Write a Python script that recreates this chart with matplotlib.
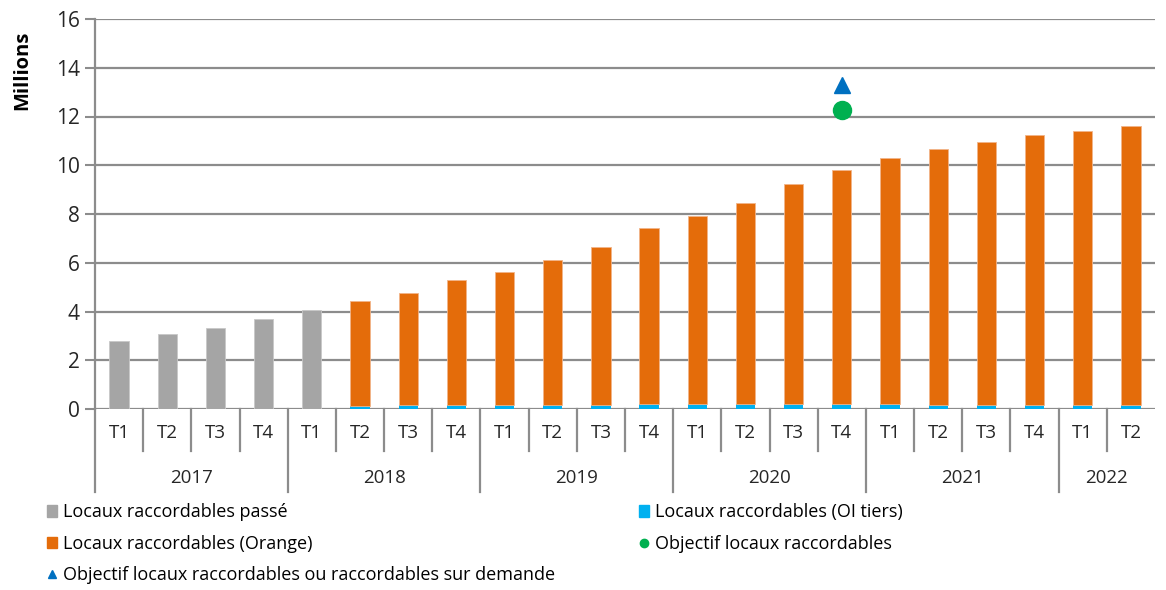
import matplotlib.pyplot as plt
from matplotlib.lines import Line2D
from matplotlib.patches import Patch

plt.rcParams['font.family'] = ['Open Sans', 'DejaVu Sans']

quarters = ["T1", "T2", "T3", "T4"] * 5 + ["T1", "T2"]
years = ["2017", "2018", "2019", "2020", "2021", "2022"]
quarters_per_year = [4, 4, 4, 4, 4, 2]

# millions
passe = [2.77, 3.08, 3.34, 3.71, 4.07]
oi_tiers = [0.12, 0.17, 0.17, 0.16, 0.16, 0.16, 0.21, 0.21, 0.21, 0.21, 0.21,
            0.21, 0.16, 0.16, 0.16, 0.16, 0.16]
orange = [4.33, 4.59, 5.11, 5.48, 5.95, 6.47, 7.21, 7.69, 8.24, 9.03, 9.59,
          10.08, 10.49, 10.80, 11.08, 11.23, 11.45]
objectif_idx = 15
objectif = 12.27
objectif_demande = 13.3

c_gray = "#A5A5A5"
c_orange = "#E46C0A"
c_blue = "#00B0F0"
c_green = "#00B050"
c_tri = "#0070C0"
c_axis = "#8C8C8C"

fig = plt.figure(figsize=(11.66, 5.9), dpi=100)
ax = fig.add_axes([95 / 1166, 1 - 409 / 590, 1060 / 1166, 390 / 590])

n = len(quarters)
w = 0.4
x_passe = list(range(len(passe)))
x_new = list(range(len(passe), n))

ax.bar(x_passe, passe, width=w, color=c_gray, edgecolor="#C8C8C8", linewidth=0.6, zorder=3)
ax.bar(x_new, oi_tiers, width=w, color=c_blue, linewidth=0, zorder=3)
ax.bar(x_new, orange, width=w, bottom=oi_tiers, color=c_orange,
       edgecolor="#F2B489", linewidth=0.6, zorder=3)
ax.plot([objectif_idx], [objectif], "o", color=c_green, markersize=13, zorder=4)
ax.plot([objectif_idx], [objectif_demande], "^", color=c_tri, markersize=12, zorder=4)

ax.set_xlim(-0.5, n - 0.5)
ax.set_ylim(0, 16)
ax.set_yticks(range(0, 17, 2))
ax.yaxis.grid(True, color=c_axis, linewidth=1.6, zorder=0)
ax.tick_params(axis="y", length=7, width=1.5, color=c_axis, labelsize=15,
               labelcolor="#262626", pad=4)
ax.set_xticks([])
for s in ["top", "right", "bottom"]:
    ax.spines[s].set_visible(False)
ax.spines["left"].set_color(c_axis)
ax.spines["left"].set_linewidth(1.6)
ax.spines["left"].set_bounds(0, 16)

# multi-level category axis
trans = ax.get_xaxis_transform()
for i, q in enumerate(quarters):
    ax.text(i, -0.062, q, transform=trans, ha="center", va="center",
            fontsize=13.5, color="#262626")
ax.plot([-0.5, -0.5], [0, -0.213], transform=trans, color=c_axis, lw=1.6, clip_on=False)
start = 0
for y, k in zip(years, quarters_per_year):
    ax.text(start + (k - 1) / 2, -0.177, y, transform=trans, ha="center",
            va="center", fontsize=13.5, color="#262626")
    for j in range(1, k):
        ax.plot([start + j - 0.5] * 2, [0, -0.108], transform=trans,
                color=c_axis, lw=1.6, clip_on=False)
    end = start + k - 0.5
    if end < n - 0.5:
        ax.plot([end, end], [0, -0.213], transform=trans, color=c_axis,
                lw=1.6, clip_on=False)
    start += k

fig.text(22 / 1166, 1 - 70 / 590, "Millions", rotation=90, ha="center",
         va="center", fontsize=14.5, fontweight="bold", color="#000000")

h_passe = Patch(color=c_gray, label="Locaux raccordables passé")
h_orange = Patch(color=c_orange, label="Locaux raccordables (Orange)")
h_tri = Line2D([], [], marker="^", color=c_tri, linestyle="none", markersize=6,
               label="Objectif locaux raccordables ou raccordables sur demande")
h_blue = Patch(color=c_blue, label="Locaux raccordables (OI tiers)")
h_green = Line2D([], [], marker="o", color=c_green, linestyle="none", markersize=6,
                 label="Objectif locaux raccordables")

leg_kw = dict(frameon=False, fontsize=13, handlelength=0.55, handleheight=0.6,
              handletextpad=0.3, labelspacing=0.75, borderaxespad=0)
fig.legend(handles=[h_passe, h_orange, h_tri], loc="upper left",
           bbox_to_anchor=(40 / 1166, 1 - 496 / 590), **leg_kw)
fig.legend(handles=[h_blue, h_green], loc="upper left",
           bbox_to_anchor=(632 / 1166, 1 - 496 / 590), **leg_kw)

fig.savefig("out.png", dpi=100)
